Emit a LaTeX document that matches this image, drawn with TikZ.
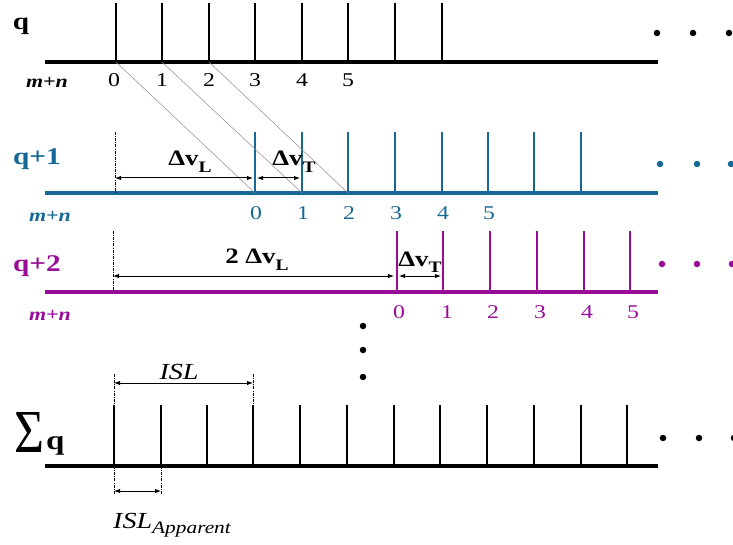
\documentclass[tikz,border=0pt]{standalone}
\usepackage{fontspec}
\setmainfont{Liberation Serif}[FakeStretch=1.22]
\usetikzlibrary{arrows.meta}
\definecolor{qblue}{RGB}{22,104,150}
\definecolor{qpurple}{RGB}{152,12,152}
\newcommand{\dvsym}[1]{\bfseries Δv\raisebox{-0.28em}{\fontsize{16}{16}\selectfont #1}}
\begin{document}
\begin{tikzpicture}[x=1pt,y=-1pt,
  axis/.style={line width=3.3pt},
  tickln/.style={line width=2.9pt},
  diag/.style={black!45, line width=0.5pt},
  guide/.style={line width=0.6pt, dash pattern=on 3pt off 1.2pt on 0.8pt off 1.2pt},
  dim/.style={line width=1pt, {Latex[length=6pt,width=4.5pt]}-{Latex[length=6pt,width=4.5pt]}},
  num/.style={font=\fontsize{19.5}{19.5}\selectfont, inner sep=0pt, anchor=base},
  mn/.style={font=\fontsize{18}{18}\selectfont\bfseries\itshape, inner sep=0pt, anchor=base},
  rowlab/.style={font=\fontsize{24}{24}\selectfont\bfseries, inner sep=0pt, anchor=base},
  dvlab/.style={font=\fontsize{22}{22}\selectfont, inner sep=0pt, anchor=base},
  isllab/.style={font=\fontsize{23}{23}\selectfont\itshape, inner sep=0pt, anchor=base},
  dot/.style={circle, fill, inner sep=0pt, minimum size=6.5pt}]
\useasboundingbox (0,0) rectangle (733,545);

% ---------- row q ----------
\node[rowlab] (Lq) at (21,30) {q};
\node[mn] (Amn) at (47,88) {m+n};
\coordinate (As) at (45,62); \coordinate (Ae) at (658,62);
\draw[axis] (As) -- (Ae);
\foreach \x [count=\i from 0] in {116,162,209,255,302,348,395,442}{
  \coordinate (Ab\i) at (\x,62); \coordinate (At\i) at (\x,3);
  \draw[tickln] (Ab\i) -- (At\i);}
\foreach \x [count=\i from 0] in {114,162,209,255,302,348}{
  \node[num] (An\i) at (\x,87) {\i};}
\foreach \x [count=\i] in {657,693,729}{
  \node[dot] (Ad\i) at (\x,33) {};}

% ---------- row q+1 ----------
\begin{scope}[qblue]
\node[rowlab, text=qblue] (Lq1) at (37,165) {q+1};
\node[mn, text=qblue] (Bmn) at (50,222) {m+n};
\coordinate (Bs) at (45,193); \coordinate (Be) at (658,193);
\draw[axis] (Bs) -- (Be);
\foreach \x [count=\i from 0] in {255,302,348,395,442,488,534,581}{
  \coordinate (Bb\i) at (\x,193); \coordinate (Bt\i) at (\x,132);
  \draw[tickln] (Bb\i) -- (Bt\i);}
\foreach \x [count=\i from 0] in {256,303,349,396,443,489}{
  \node[num, text=qblue] (Bn\i) at (\x,220) {\i};}
\foreach \x [count=\i] in {660,697,731}{
  \node[dot, fill=qblue] (Bd\i) at (\x,164) {};}
\end{scope}
% diagonals
\draw[diag] (Ab0) -- (Bb0);
\draw[diag] (Ab1) -- (Bb1);
\draw[diag] (Ab2) -- (Bb2);
% dimension q+1
\coordinate (Bg0) at (115,132); \coordinate (Bg1) at (115,193);
\draw[guide] (Bg0) -- (Bg1);
\coordinate (BLa) at (115,178); \coordinate (BLb) at (253,178);
\coordinate (BTa) at (257,178); \coordinate (BTb) at (300,178);
\draw[dim] (BLa) -- (BLb);
\draw[dim] (BTa) -- (BTb);
\node[dvlab] (BdL) at (190,166) {\dvsym{L}};
\node[dvlab] (BdT) at (294,166) {\dvsym{T}};

% ---------- row q+2 ----------
\begin{scope}[qpurple]
\node[rowlab, text=qpurple] (Lq2) at (37,272) {q+2};
\node[mn, text=qpurple] (Cmn) at (50,320) {m+n};
\coordinate (Cs) at (45,292); \coordinate (Ce) at (658,292);
\draw[axis] (Cs) -- (Ce);
\foreach \x [count=\i from 0] in {397,443,490,537,584,630}{
  \coordinate (Cb\i) at (\x,292); \coordinate (Ct\i) at (\x,231);
  \draw[tickln] (Cb\i) -- (Ct\i);}
\foreach \x [count=\i from 0] in {399,447,493,540,587,633}{
  \node[num, text=qpurple] (Cn\i) at (\x,318) {\i};}
\foreach \x [count=\i] in {662,697,732}{
  \node[dot, fill=qpurple] (Cd\i) at (\x,264) {};}
\end{scope}
\coordinate (Cg0) at (113,231); \coordinate (Cg1) at (113,292);
\draw[guide] (Cg0) -- (Cg1);
\coordinate (CLa) at (113,276); \coordinate (CLb) at (394,276);
\coordinate (CTa) at (399,276); \coordinate (CTb) at (441,276);
\draw[dim] (CLa) -- (CLb);
\draw[dim] (CTa) -- (CTb);
\node[dvlab] (CdL) at (257,264) {\bfseries 2 \dvsym{L}};
\node[dvlab] (CdT) at (420,266) {\dvsym{T}};

% ---------- vertical dots ----------
\foreach \y [count=\i] in {326,350,377}{
  \node[dot] (Vd\i) at (363,\y) {};}

% ---------- sum row ----------
\node[inner sep=0pt] (Lsig) at (30,432) {\resizebox{30pt}{40pt}{Σ}};
\node[rowlab, anchor=base west, font=\fontsize{27}{27}\selectfont\bfseries] (Lsq) at (46,449) {q};
\coordinate (Ds) at (45,466); \coordinate (De) at (658,466);
\draw[axis] (Ds) -- (De);
\foreach \x [count=\i from 0] in {114,161,207,253,300,347,394,440,487,534,581,627}{
  \coordinate (Db\i) at (\x,466); \coordinate (Dt\i) at (\x,405);
  \draw[tickln] (Db\i) -- (Dt\i);}
\foreach \x [count=\i] in {663,699,734}{
  \node[dot] (Dd\i) at (\x,438) {};}
% ISL
\coordinate (Dg0) at (114,374); \coordinate (Dg3) at (253,374);
\draw[guide] (Dg0) -- (Dt0);
\draw[guide] (Dg3) -- (Dt3);
\coordinate (DIa) at (114,383); \coordinate (DIb) at (253,383);
\draw[dim] (DIa) -- (DIb);
\node[isllab] (Disl) at (179,379) {ISL};
% ISL apparent
\coordinate (Dh0) at (114,494); \coordinate (Dh1) at (161,494);
\draw[guide] (Db0) -- (Dh0);
\draw[guide] (Db1) -- (Dh1);
\coordinate (DAa) at (114,491); \coordinate (DAb) at (161,491);
\draw[dim] (DAa) -- (DAb);
\node[isllab, anchor=base west] (Dapp) at (113,528) {ISL\raisebox{-5pt}{\fontsize{17.5}{17.5}\selectfont Apparent}};
\end{tikzpicture}
\end{document}
